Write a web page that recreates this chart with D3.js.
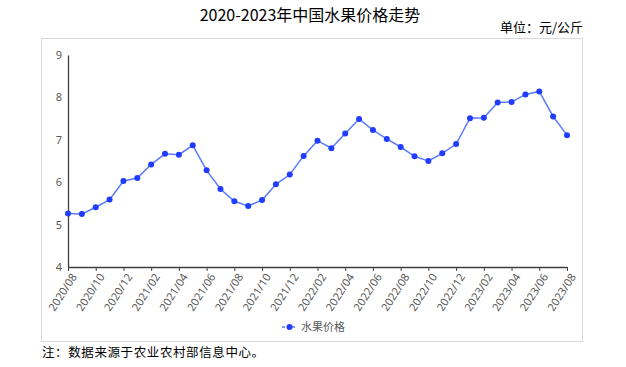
<!DOCTYPE html>
<html><head><meta charset="utf-8">
<script src="https://cdn.jsdelivr.net/npm/d3@7"></script>
<style>body{margin:0;background:#fff;}svg{display:block;font-family:"Noto Sans CJK SC","Noto Sans",sans-serif;}</style>
</head><body>
<svg id="c" width="626" height="367"></svg>
<script>
const months = ["2020/08","2020/09","2020/10","2020/11","2020/12","2021/01","2021/02","2021/03","2021/04","2021/05","2021/06","2021/07","2021/08","2021/09","2021/10","2021/11","2021/12","2022/01","2022/02","2022/03","2022/04","2022/05","2022/06","2022/07","2022/08","2022/09","2022/10","2022/11","2022/12","2023/01","2023/02","2023/03","2023/04","2023/05","2023/06","2023/07","2023/08"];
const prices = [5.26,5.25,5.41,5.59,6.03,6.10,6.42,6.67,6.65,6.87,6.28,5.84,5.55,5.44,5.58,5.95,6.18,6.62,6.98,6.80,7.15,7.49,7.23,7.02,6.83,6.61,6.50,6.68,6.90,7.51,7.52,7.88,7.89,8.07,8.14,7.55,7.11];
const yTicks = [4,5,6,7,8,9];
const xTickLabels = months.filter((d,i)=>i%2===0);
const seriesName = "水果价格";
const title = "2020-2023年中国水果价格走势";
const unit = "单位：元/公斤";
const note = "注：数据来源于农业农村部信息中心。";

const svg = d3.select("#c");
svg.append("rect").attr("x",41.5).attr("y",38.5).attr("width",541).attr("height",303)
  .attr("fill","#fff").attr("stroke","#d9d9d9").attr("stroke-width",1);

svg.append("text").attr("x",310).attr("y",21).attr("text-anchor","middle")
  .attr("font-size",16).attr("fill","#000").text(title);
svg.append("text").attr("x",583).attr("y",32).attr("text-anchor","end")
  .attr("font-size",13).attr("fill","#000").text(unit);
svg.append("text").attr("x",42).attr("y",357).attr("font-size",12.5).attr("letter-spacing",0.6)
  .attr("fill","#000").text(note);

const x = d3.scalePoint().domain(months).range([68,567]);
const y = d3.scaleLinear().domain([4,9]).range([267,55]);

const yAxis = svg.append("g").attr("transform","translate(68,0)")
  .call(d3.axisLeft(y).tickValues(yTicks).tickSize(0).tickPadding(6).tickFormat(d3.format("d")));
yAxis.select(".domain").attr("stroke","#404040").attr("stroke-width",1.3);
yAxis.selectAll("text").attr("font-size",11).attr("fill","#595959").attr("font-family","'Noto Sans',sans-serif");

const xAxis = svg.append("g").attr("transform","translate(0,267)")
  .call(d3.axisBottom(x).tickValues(xTickLabels).tickSize(4).tickSizeOuter(0));
xAxis.select(".domain").attr("stroke","#404040").attr("stroke-width",1.3);
xAxis.selectAll(".tick line").attr("stroke","#404040");
xAxis.selectAll("text").attr("font-size",11).attr("fill","#595959")
  .attr("font-family","'Noto Sans',sans-serif")
  .attr("text-anchor","end").attr("dy",0)
  .attr("transform","translate(3,6) rotate(-57)");

const line = d3.line().x((d,i)=>x(months[i])).y(d=>y(d));
svg.append("path").datum(prices).attr("d",line).attr("fill","none")
  .attr("stroke","#5b7bff").attr("stroke-width",1.5);
svg.selectAll("circle.pt").data(prices).enter().append("circle").attr("class","pt")
  .attr("cx",(d,i)=>x(months[i])).attr("cy",d=>y(d)).attr("r",3).attr("fill","#1f3cff");

const lg = svg.append("g");
lg.append("line").attr("x1",282).attr("x2",297).attr("y1",327).attr("y2",327)
  .attr("stroke","#5b7bff").attr("stroke-width",1.5).attr("stroke-dasharray","3,2");
lg.append("circle").attr("cx",289.5).attr("cy",327).attr("r",3).attr("fill","#1f3cff");
lg.append("text").attr("x",301).attr("y",331).attr("font-size",11).attr("fill","#595959").text(seriesName);
</script>
</body></html>
